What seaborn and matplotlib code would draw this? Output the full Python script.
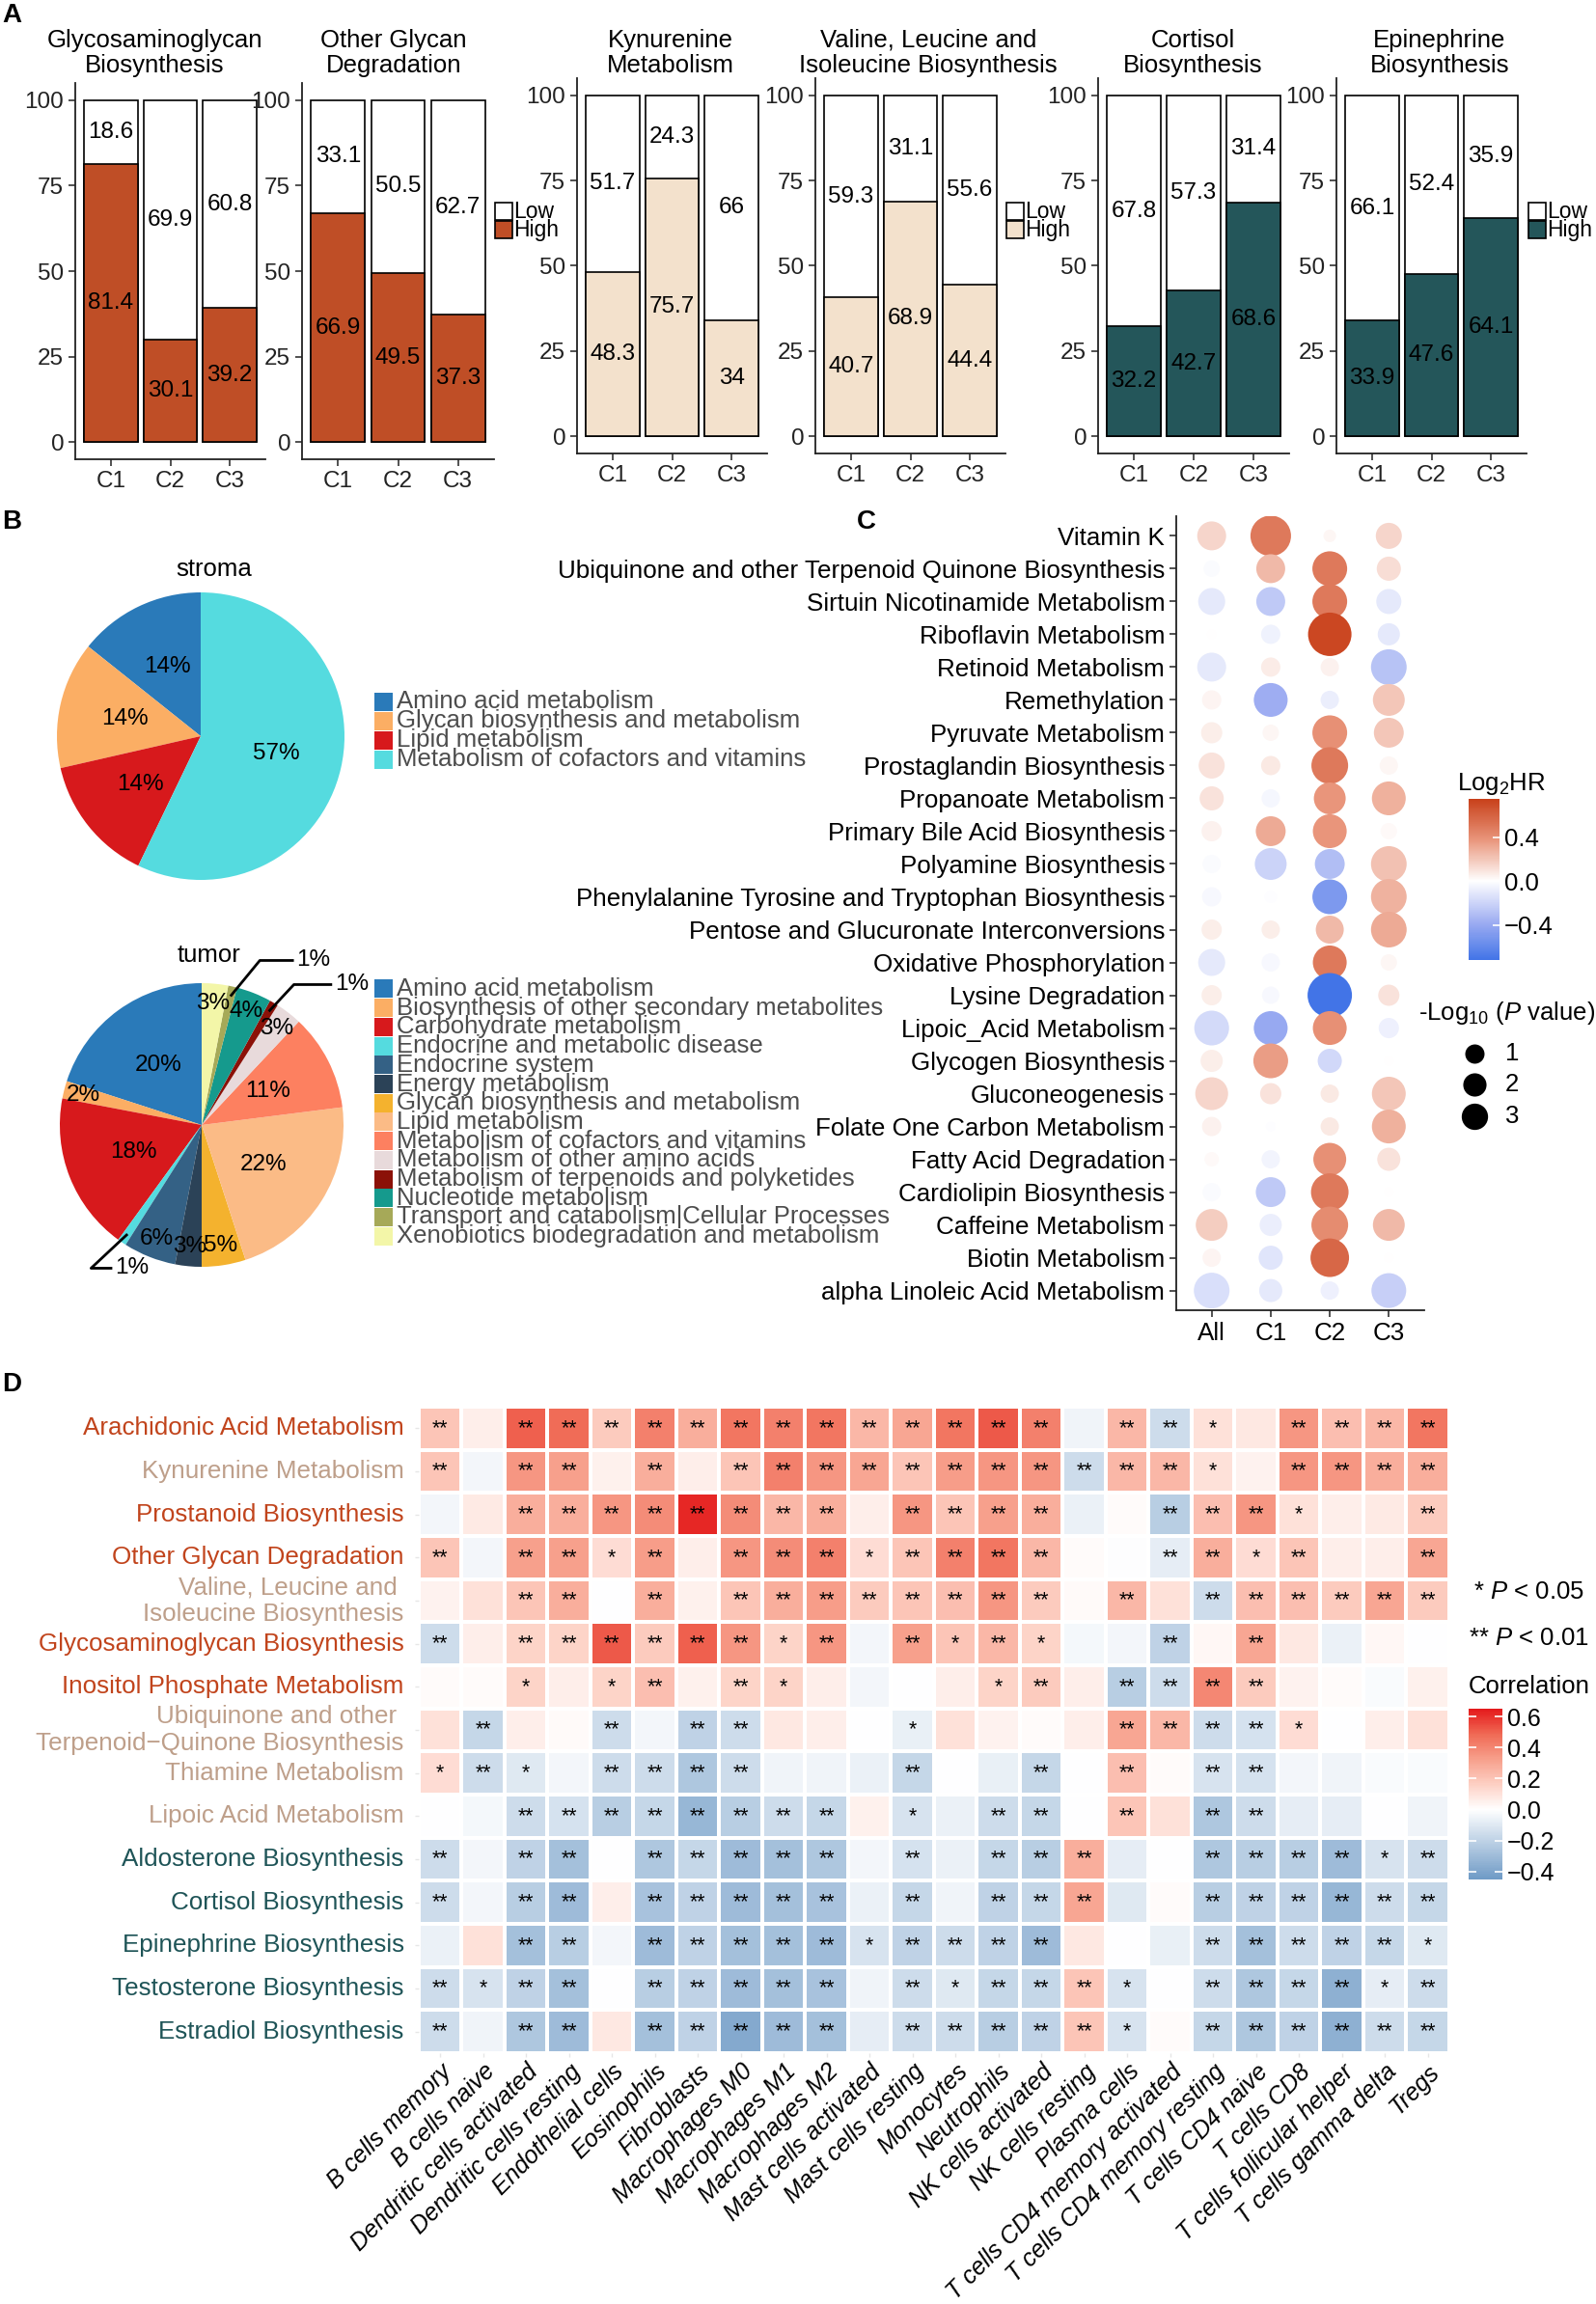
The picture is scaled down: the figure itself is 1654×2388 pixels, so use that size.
import numpy as np
import pandas as pd
import matplotlib
matplotlib.use("Agg")
import matplotlib.pyplot as plt
import seaborn as sns
from matplotlib.colors import LinearSegmentedColormap, Normalize
from matplotlib.cm import ScalarMappable
from matplotlib.patches import Rectangle

plt.rcParams["font.family"] = ["Liberation Sans", "DejaVu Sans"]
plt.rcParams["mathtext.fontset"] = "custom"
plt.rcParams["mathtext.rm"] = "Liberation Sans"
plt.rcParams["mathtext.it"] = "Liberation Sans:italic"


# 1. Data

# A: share of High / Low score samples per cluster (%)
clusters = ["C1", "C2", "C3"]
bar_titles = ["Glycosaminoglycan\nBiosynthesis", "Other Glycan\nDegradation",
              "Kynurenine\nMetabolism", "Valine, Leucine and\nIsoleucine Biosynthesis",
              "Cortisol\nBiosynthesis", "Epinephrine\nBiosynthesis"]
high_pct = [[81.4, 30.1, 39.2], [66.9, 49.5, 37.3], [48.3, 75.7, 34],
            [40.7, 68.9, 44.4], [32.2, 42.7, 68.6], [33.9, 47.6, 64.1]]
low_pct = [[18.6, 69.9, 60.8], [33.1, 50.5, 62.7], [51.7, 24.3, 66],
           [59.3, 31.1, 55.6], [67.8, 57.3, 31.4], [66.1, 52.4, 35.9]]
bar_colors = ["#BF4E26", "#BF4E26", "#F3E1CC", "#F3E1CC", "#24565A", "#24565A"]

# B: pathway classes in stroma / tumor
stroma_classes = ["Amino acid metabolism", "Glycan biosynthesis and metabolism",
                  "Lipid metabolism", "Metabolism of cofactors and vitamins"]
stroma_counts = [1, 1, 1, 4]
tumor_classes = ["Amino acid metabolism", "Biosynthesis of other secondary metabolites",
                 "Carbohydrate metabolism", "Endocrine and metabolic disease",
                 "Endocrine system", "Energy metabolism",
                 "Glycan biosynthesis and metabolism", "Lipid metabolism",
                 "Metabolism of cofactors and vitamins", "Metabolism of other amino acids",
                 "Metabolism of terpenoids and polyketides", "Nucleotide metabolism",
                 "Transport and catabolism|Cellular Processes",
                 "Xenobiotics biodegradation and metabolism"]
tumor_pct = [20, 2, 18, 1, 6, 3, 5, 22, 11, 3, 1, 4, 1, 3]
stroma_colors = ["#2A7AB9", "#FBAE64", "#D7191C", "#55DBDF"]
tumor_colors = ["#2A7AB9", "#FBAE64", "#D7191C", "#55DBDF", "#346185", "#2B4257",
                "#F4B22E", "#FBBB86", "#FD8060", "#E8DADB", "#8B1108", "#159A8D",
                "#A6A958", "#F3F6A8"]

# C: Cox regression per cluster
c_pathways = ["Vitamin K", "Ubiquinone and other Terpenoid Quinone Biosynthesis",
              "Sirtuin Nicotinamide Metabolism", "Riboflavin Metabolism",
              "Retinoid Metabolism", "Remethylation", "Pyruvate Metabolism",
              "Prostaglandin Biosynthesis", "Propanoate Metabolism",
              "Primary Bile Acid Biosynthesis", "Polyamine Biosynthesis",
              "Phenylalanine Tyrosine and Tryptophan Biosynthesis",
              "Pentose and Glucuronate Interconversions", "Oxidative Phosphorylation",
              "Lysine Degradation", "Lipoic_Acid Metabolism", "Glycogen Biosynthesis",
              "Gluconeogenesis", "Folate One Carbon Metabolism", "Fatty Acid Degradation",
              "Cardiolipin Biosynthesis", "Caffeine Metabolism", "Biotin Metabolism",
              "alpha Linoleic Acid Metabolism"]
c_groups = ["All", "C1", "C2", "C3"]
hr_all = [0.15, -0.02, -0.1, 0.0, -0.1, 0.04, 0.06, 0.1, 0.1, 0.05, -0.02, -0.03,
          0.06, -0.1, 0.06, -0.17, 0.06, 0.15, 0.05, 0.02, -0.02, 0.18, 0.04, -0.15]
hr_c1 = [0.5, 0.25, -0.25, -0.06, 0.07, -0.38, 0.03, 0.08, -0.04, 0.3, -0.2, -0.01,
         0.06, -0.03, -0.03, -0.4, 0.35, 0.1, -0.01, -0.05, -0.25, -0.08, -0.12, -0.1]
hr_c2 = [0.03, 0.5, 0.5, 0.72, 0.05, -0.08, 0.4, 0.5, 0.38, 0.38, -0.3, -0.5,
         0.25, 0.5, -0.72, 0.4, -0.18, 0.08, 0.08, 0.4, 0.5, 0.42, 0.58, -0.07]
hr_c3 = [0.15, 0.12, -0.1, -0.1, -0.28, 0.2, 0.2, 0.03, 0.28, 0.02, 0.22, 0.27,
         0.3, 0.03, 0.1, -0.07, 0.0, 0.2, 0.28, 0.1, 0.0, 0.25, 0.0, -0.22]
logp_all = [4.0, 0.49, 3.25, 0.0, 4.0, 1.0, 1.44, 2.9, 2.26, 1.21, 0.81, 1.0,
            1.21, 3.25, 1.21, 6.8, 1.69, 5.8, 1.0, 0.25, 0.81, 5.3, 0.81, 7.3]
logp_c1 = [10.3, 4.0, 4.0, 1.0, 1.0, 6.3, 0.49, 1.0, 0.81, 4.4, 5.3, 0.09,
           0.81, 0.81, 0.64, 6.3, 6.8, 1.44, 0.0, 0.81, 4.4, 1.69, 2.26, 1.96]
logp_c2 = [0.09, 6.8, 6.8, 12.3, 0.81, 0.81, 6.8, 7.9, 5.3, 6.3, 4.4, 6.8,
           3.62, 6.3, 13.0, 6.3, 2.26, 0.81, 0.81, 5.8, 8.4, 7.9, 9.0, 0.81]
logp_c3 = [2.9, 2.26, 2.57, 1.69, 7.3, 5.3, 4.4, 0.81, 6.3, 0.49, 7.3, 7.3,
           7.3, 0.49, 1.44, 1.21, 0.0, 6.3, 6.3, 1.96, 0.0, 5.3, 0.0, 6.8]

# D: correlation of pathway scores with immune cell infiltration
d_pathways = ["Arachidonic Acid Metabolism", "Kynurenine Metabolism",
              "Prostanoid Biosynthesis", "Other Glycan Degradation",
              "Valine, Leucine and \nIsoleucine Biosynthesis",
              "Glycosaminoglycan Biosynthesis", "Inositol Phosphate Metabolism",
              "Ubiquinone and other \nTerpenoid\u2212Quinone Biosynthesis",
              "Thiamine Metabolism", "Lipoic Acid Metabolism",
              "Aldosterone Biosynthesis", "Cortisol Biosynthesis",
              "Epinephrine Biosynthesis", "Testosterone Biosynthesis",
              "Estradiol Biosynthesis"]
cell_types = ["B cells memory", "B cells naive", "Dendritic cells activated",
              "Dendritic cells resting", "Endothelial cells", "Eosinophils",
              "Fibroblasts", "Macrophages M0", "Macrophages M1", "Macrophages M2",
              "Mast cells activated", "Mast cells resting", "Monocytes", "Neutrophils",
              "NK cells activated", "NK cells resting", "Plasma cells",
              "T cells CD4 memory activated", "T cells CD4 memory resting",
              "T cells CD4 naive", "T cells CD8", "T cells follicular helper",
              "T cells gamma delta", "Tregs"]
corr = [
    [0.2, 0.06, 0.5, 0.48, 0.18, 0.42, 0.28, 0.45, 0.42, 0.45, 0.25, 0.3, 0.45, 0.52, 0.42, -0.05, 0.25, -0.15, 0.1, 0.08, 0.35, 0.22, 0.25, 0.45],
    [0.2, -0.04, 0.35, 0.32, 0.05, 0.28, 0.06, 0.2, 0.42, 0.35, 0.3, 0.2, 0.33, 0.35, 0.35, -0.15, 0.25, 0.25, 0.1, 0.04, 0.35, 0.35, 0.28, 0.28],
    [-0.04, 0.07, 0.28, 0.28, 0.35, 0.38, 0.62, 0.38, 0.25, 0.28, 0.06, 0.35, 0.2, 0.32, 0.28, -0.06, 0.01, -0.22, 0.22, 0.35, 0.1, 0.06, 0.07, 0.18],
    [0.2, -0.04, 0.32, 0.32, 0.12, 0.33, 0.06, 0.35, 0.38, 0.42, 0.12, 0.2, 0.42, 0.45, 0.25, 0.01, -0.01, -0.08, 0.28, 0.12, 0.2, 0.06, 0.06, 0.3],
    [0.04, 0.1, 0.2, 0.28, 0.0, 0.28, 0.05, 0.2, 0.28, 0.33, 0.18, 0.2, 0.22, 0.35, 0.18, 0.02, 0.25, 0.1, -0.15, 0.22, 0.22, 0.18, 0.3, 0.18],
    [-0.15, 0.06, 0.15, 0.15, 0.52, 0.18, 0.5, 0.35, 0.15, 0.35, -0.04, 0.32, 0.2, 0.25, 0.15, -0.03, -0.04, -0.2, 0.03, 0.3, 0.08, -0.06, 0.03, 0.0],
    [0.01, 0.01, 0.15, 0.06, 0.15, 0.22, 0.05, 0.15, 0.15, 0.06, -0.04, 0.0, 0.06, 0.15, 0.18, 0.06, -0.22, -0.15, 0.4, 0.18, 0.04, 0.01, -0.02, 0.05],
    [0.1, -0.18, 0.06, 0.02, -0.15, -0.04, -0.2, -0.15, 0.08, 0.06, 0.0, -0.07, 0.1, 0.04, 0.01, 0.06, 0.3, 0.25, -0.15, -0.13, 0.12, 0.0, 0.06, 0.1],
    [0.12, -0.15, -0.1, -0.04, -0.15, -0.15, -0.25, -0.15, -0.05, -0.05, -0.06, -0.18, 0.0, -0.07, -0.18, 0.0, 0.22, 0.01, -0.12, -0.13, -0.04, -0.05, -0.02, -0.02],
    [0.0, -0.03, -0.15, -0.13, -0.22, -0.18, -0.32, -0.22, -0.15, -0.18, 0.05, -0.12, -0.06, -0.15, -0.18, 0.0, 0.2, 0.1, -0.25, -0.15, -0.08, -0.08, 0.0, -0.05],
    [-0.15, -0.04, -0.2, -0.28, 0.0, -0.25, -0.18, -0.3, -0.28, -0.25, -0.04, -0.13, -0.06, -0.18, -0.22, 0.28, -0.08, 0.0, -0.25, -0.22, -0.22, -0.3, -0.12, -0.15],
    [-0.15, -0.04, -0.22, -0.3, 0.06, -0.27, -0.2, -0.3, -0.28, -0.27, -0.06, -0.18, -0.05, -0.2, -0.18, 0.3, -0.1, 0.01, -0.22, -0.2, -0.2, -0.32, -0.15, -0.18],
    [-0.06, 0.1, -0.28, -0.22, -0.04, -0.3, -0.2, -0.28, -0.28, -0.3, -0.12, -0.2, -0.15, -0.2, -0.3, 0.08, 0.0, -0.07, -0.15, -0.28, -0.15, -0.2, -0.18, -0.1],
    [-0.15, -0.12, -0.2, -0.28, 0.0, -0.22, -0.2, -0.3, -0.28, -0.27, -0.05, -0.15, -0.1, -0.18, -0.18, 0.2, -0.12, 0.0, -0.15, -0.25, -0.18, -0.35, -0.08, -0.15],
    [-0.15, -0.05, -0.25, -0.3, 0.08, -0.28, -0.2, -0.38, -0.3, -0.28, -0.08, -0.15, -0.15, -0.22, -0.2, 0.2, -0.12, 0.01, -0.18, -0.25, -0.2, -0.35, -0.15, -0.18],
]
# significance level per cell: 2 = P<0.01, 1 = P<0.05, 0 = ns
signif = [
    "2 0 2 2 2 2 2 2 2 2 2 2 2 2 2 0 2 2 1 0 2 2 2 2",
    "2 0 2 2 0 2 0 2 2 2 2 2 2 2 2 2 2 2 1 0 2 2 2 2",
    "0 0 2 2 2 2 2 2 2 2 0 2 2 2 2 0 0 2 2 2 1 0 0 2",
    "2 0 2 2 1 2 0 2 2 2 1 2 2 2 2 0 0 2 2 1 2 0 0 2",
    "0 0 2 2 0 2 0 2 2 2 2 2 2 2 2 0 2 0 2 2 2 2 2 2",
    "2 0 2 2 2 2 2 2 1 2 0 2 1 2 1 0 0 2 0 2 0 0 0 0",
    "0 0 1 0 1 2 0 2 1 0 0 0 0 1 2 0 2 2 2 2 0 0 0 0",
    "0 2 0 0 2 0 2 2 0 0 0 1 0 0 0 0 2 2 2 2 1 0 0 0",
    "1 2 1 0 2 2 2 2 0 0 0 2 0 0 2 0 2 0 2 2 0 0 0 0",
    "0 0 2 2 2 2 2 2 2 2 0 1 0 2 2 0 2 0 2 2 0 0 0 0",
    "2 0 2 2 0 2 2 2 2 2 0 2 0 2 2 2 0 0 2 2 2 2 1 2",
    "2 0 2 2 0 2 2 2 2 2 0 2 0 2 2 2 0 0 2 2 2 2 2 2",
    "0 0 2 2 0 2 2 2 2 2 1 2 2 2 2 0 0 0 2 2 2 2 2 1",
    "2 1 2 2 0 2 2 2 2 2 0 2 1 2 2 2 1 0 2 2 2 2 1 2",
    "2 0 2 2 0 2 2 2 2 2 0 2 2 2 2 2 1 0 2 2 2 2 2 2",
]
rust, tan, teal = "#C1441C", "#BE9F8A", "#1E5457"
d_label_colors = [rust, tan, rust, rust, tan, rust, rust, tan, tan, tan,
                  teal, teal, teal, teal, teal]


# 2. Figure helpers (pixel layout of a 1654 x 2388 canvas)

W, H = 1654, 2388
fig = plt.figure(figsize=(W / 100, H / 100), dpi=100)


def box(x0, y0, x1, y1):
    return fig.add_axes([x0 / W, 1 - y1 / H, (x1 - x0) / W, (y1 - y0) / H])


def ftext(x, y, s, **kw):
    return fig.text(x / W, 1 - y / H, s, **kw)


def key_legend(x, y0, dy, labels, colors, size, edge="none", fs=18, tcolor="black", gap=4):
    for i, (lab, col) in enumerate(zip(labels, colors)):
        yc = y0 + i * dy
        fig.add_artist(Rectangle((x / W, 1 - (yc + size / 2) / H), size / W, size / H,
                                 transform=fig.transFigure, facecolor=col,
                                 edgecolor=edge, linewidth=1.2))
        ftext(x + size + gap, yc, lab, fontsize=fs, color=tcolor, va="center", ha="left")


for letter, (lx, ly) in zip("ABCD", [(2, 16), (2, 541), (888, 541), (2, 1435)]):
    ftext(lx, ly, letter, fontsize=20, fontweight="bold", va="center", ha="left")


# 3. Panel A - stacked bars

a_boxes = [(78, 86, 275, 476), (313, 86, 512, 476), (598, 81, 795, 470),
           (845, 81, 1042, 470), (1138, 81, 1336, 470), (1385, 81, 1582, 470)]
title_x = [160, 408, 695, 962, 1236, 1492]

for k in range(6):
    ax = box(*a_boxes[k])
    totals = [h + l for h, l in zip(high_pct[k], low_pct[k])]
    sns.barplot(x=clusters, y=totals, color="white", edgecolor="black", linewidth=1.2,
                width=0.9, saturation=1, errorbar=None, ax=ax)
    sns.barplot(x=clusters, y=high_pct[k], color=bar_colors[k], edgecolor="black",
                linewidth=1.2, width=0.9, saturation=1, errorbar=None, ax=ax)
    for i, (h, l) in enumerate(zip(high_pct[k], low_pct[k])):
        ax.text(i, h / 2, f"{h:g}", ha="center", va="center", fontsize=17.5)
        ax.text(i, h + l / 2, f"{l:g}", ha="center", va="center", fontsize=17.5)
    ax.set_xlim(-0.6, 2.6)
    ax.set_ylim(-5, 105)
    ax.set_yticks([0, 25, 50, 75, 100])
    ax.set_xlabel("")
    ax.set_ylabel("")
    sns.despine(ax=ax)
    for sp in ["left", "bottom"]:
        ax.spines[sp].set_linewidth(1.3)
        ax.spines[sp].set_color("#222222")
    ax.tick_params(labelsize=17.5, length=5, width=1.2, color="#333333", labelcolor="#222222")
    ftext(title_x[k], 55, bar_titles[k], fontsize=18.5, ha="center", va="center",
          linespacing=1.15)

for lx, k in [(513, 1), (1043, 3), (1584, 5)]:
    key_legend(lx, 219, 19, ["Low", "High"], ["white", bar_colors[k]], 18,
               edge="black", fs=16.5, gap=1)


# 4. Panel B - pies

def pie_labels(ax, wedges, values, radius_of):
    total = sum(values)
    for w, v in zip(wedges, values):
        ang = np.deg2rad((w.theta1 + w.theta2) / 2)
        r = radius_of(v / total)
        if r is None:
            continue
        ax.text(r * np.cos(ang), r * np.sin(ang), f"{round(100 * v / total)}%",
                ha="center", va="center", fontsize=17.5)


ax = box(59, 614, 357, 912)
wedges, _ = ax.pie(stroma_counts, colors=stroma_colors, startangle=90,
                   counterclock=True, wedgeprops=dict(linewidth=0))
ax.set_xlim(-1, 1)
ax.set_ylim(-1, 1)
pie_labels(ax, wedges, stroma_counts, lambda f: 0.54)
ftext(222, 590, "stroma", fontsize=18.5, ha="center", va="center")
key_legend(388, 727, 20, stroma_classes, stroma_colors, 19, fs=18.5, tcolor="#4D4D4D")

ax = box(62, 1019, 356, 1313)
wedges, _ = ax.pie(tumor_pct, colors=tumor_colors, startangle=90,
                   counterclock=True, wedgeprops=dict(linewidth=0))
ax.set_xlim(-1, 1)
ax.set_ylim(-1, 1)
pie_labels(ax, wedges, tumor_pct,
           lambda f: None if f < 0.015 else (0.52 if f >= 0.1 else 0.86))
# leader lines for the 1 % slices
for idx, elbow, end in [(12, (0.41, 1.16), (0.65, 1.16)),
                        (10, (0.65, 0.99), (0.92, 0.99)),
                        (3, (-0.78, -1.01), (-0.63, -1.01))]:
    w = wedges[idx]
    ang = np.deg2rad((w.theta1 + w.theta2) / 2)
    start = (0.93 * np.cos(ang), 0.93 * np.sin(ang))
    ax.plot([start[0], elbow[0], end[0]], [start[1], elbow[1], end[1]],
            color="black", lw=2, clip_on=False, solid_capstyle="butt")
    ax.text(end[0] + 0.02, end[1], f"{round(100 * tumor_pct[idx] / sum(tumor_pct))}%",
            ha="left", va="center", fontsize=17.5, clip_on=False)
ftext(217, 990, "tumor", fontsize=18.5, ha="center", va="center")
key_legend(388, 1025, 19.7, tumor_classes, tumor_colors, 19, fs=18.5, tcolor="#4D4D4D")


# 5. Panel C - dot plot of log2 HR

df_c = pd.DataFrame({
    "pathway": np.repeat(c_pathways, len(c_groups)),
    "group": np.tile(c_groups, len(c_pathways)),
    "log2hr": np.column_stack([hr_all, hr_c1, hr_c2, hr_c3]).ravel(),
    "nlogp": np.column_stack([logp_all, logp_c1, logp_c2, logp_c3]).ravel(),
})


def dot_area(v):
    d_px = 10 + 36 * np.sqrt(v / 13.0)
    return (d_px * 0.72) ** 2


hr_cmap = LinearSegmentedColormap.from_list(
    "hr", [(0, "#3A6FE6"), (0.25, "#9FAEF2"), (0.5, "white"),
           (0.75, "#E9967C"), (1.0, "#C8401A")])
hr_norm = Normalize(-0.75, 0.75)

ax = box(1219, 535, 1476, 1358)
sns.scatterplot(data=df_c, x="group", y="pathway", hue="log2hr", size="nlogp",
                palette=hr_cmap, hue_norm=hr_norm,
                sizes={v: dot_area(v) for v in df_c["nlogp"].unique()},
                linewidth=0, legend=False, ax=ax, zorder=3)
ax.set_xlim(-0.6, 3.6)
ax.set_ylim(23.6, -0.6)
ax.set_xlabel("")
ax.set_ylabel("")
sns.despine(ax=ax)
for sp in ["left", "bottom"]:
    ax.spines[sp].set_linewidth(1.3)
    ax.spines[sp].set_color("#222222")
ax.tick_params(labelsize=18.7, length=5, width=1.2, color="#333333")

cax = box(1522, 828, 1554, 995)
cb = fig.colorbar(ScalarMappable(norm=hr_norm, cmap=hr_cmap), cax=cax,
                  boundaries=np.linspace(-0.72, 0.75, 256), ticks=[-0.4, 0.0, 0.4])
cb.outline.set_visible(False)
cb.ax.tick_params(labelsize=18.5, direction="in", color="white", length=5, width=1.2)
cb.ax.set_yticklabels(["\u22120.4", "0.0", "0.4"])
ftext(1510, 813, "Log$_2$HR", fontsize=18.5, ha="left", va="center")
ftext(1470, 1050, "-Log$_{10}$ ($P$ value)", fontsize=18.5, ha="left", va="center")

lax = box(1500, 1070, 1600, 1180)
lax.set_xlim(1500, 1600)
lax.set_ylim(1180, 1070)
lax.axis("off")
for v, yy in zip([1, 2, 3], [1092, 1124, 1157]):
    lax.scatter([1528], [yy], s=dot_area(v), color="black", linewidth=0)
    lax.text(1560, yy, str(v), fontsize=18.5, ha="left", va="center")


# 6. Panel D - correlation heatmap

corr_df = pd.DataFrame(corr, index=d_pathways, columns=cell_types)
star_map = {"2": "**", "1": "*", "0": ""}
star_df = pd.DataFrame([[star_map[t] for t in row.split()] for row in signif],
                       index=d_pathways, columns=cell_types)

corr_cmap = LinearSegmentedColormap.from_list(
    "corr", [(0, "#2F6EAD"), (0.5, "white"), (0.625, "#FDD0C4"), (0.75, "#F7A08C"),
             (0.875, "#F06A55"), (1.0, "#E41A1C")])

ax = box(434, 1458, 1502, 2128)
cax = box(1522, 1771, 1557, 1948)
sns.heatmap(corr_df, cmap=corr_cmap, vmin=-0.45, vmax=0.65, center=0,
            annot=star_df, fmt="", annot_kws={"fontsize": 15.5, "color": "black"},
            linewidths=1.5, linecolor="white", cbar_ax=cax,
            cbar_kws={"ticks": [-0.4, -0.2, 0.0, 0.2, 0.4, 0.6]}, ax=ax)
ax.set_xlabel("")
ax.set_ylabel("")
ax.tick_params(axis="both", length=3, color="#E6E6E6", width=1)
ax.tick_params(axis="x", pad=2)
ax.tick_params(axis="y", labelsize=18.7, pad=8, rotation=0)
ax.set_xticklabels(cell_types, rotation=45, ha="right", rotation_mode="anchor",
                   fontsize=18, fontstyle="italic")
for lab, col in zip(ax.get_yticklabels(), d_label_colors):
    lab.set_color(col)

cbar = ax.collections[0].colorbar
cbar.outline.set_visible(False)
cbar.ax.tick_params(labelsize=18, direction="in", color="white", length=6, width=1.2,
                    left=True, right=True)
ftext(1522, 1748, "Correlation", fontsize=18.5, ha="left", va="center")
ftext(1527, 1650, "* $P$ < 0.05", fontsize=18.5, ha="left", va="center")
ftext(1522, 1698, "** $P$ < 0.01", fontsize=18.5, ha="left", va="center")

fig.savefig("out.png", dpi=100, facecolor="white")
